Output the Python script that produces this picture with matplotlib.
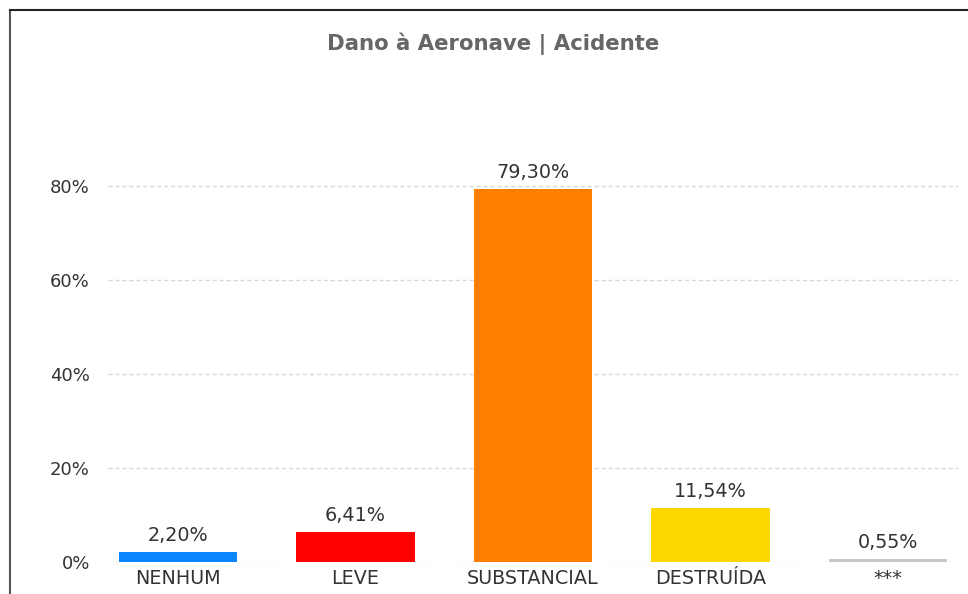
import matplotlib
matplotlib.use("Agg")
import matplotlib.pyplot as plt
from matplotlib.lines import Line2D

categories = ["NENHUM", "LEVE", "SUBSTANCIAL", "DESTRUÍDA", "***"]
values = [2.20, 6.41, 79.30, 11.54, 0.55]
labels = ["2,20%", "6,41%", "79,30%", "11,54%", "0,55%"]
colors = ["#0A84FF", "#FF0000", "#FF8000", "#FFD700", "#C8C8C8"]
yticks = [0, 20, 40, 60, 80]
ytick_labels = ["0%", "20%", "40%", "60%", "80%"]
title = "Dano à Aeronave | Acidente"

W, H = 968, 594
fig = plt.figure(figsize=(W / 100, H / 100), dpi=100)
ax = fig.add_axes([108 / W, 1 - 562 / H, (958 - 108) / W, (562 - 139) / H])

x = list(range(len(categories)))
ax.bar(x, values, width=0.665, color=colors, zorder=3)
for xi, v, lab in zip(x, values, labels):
    ax.annotate(lab, (xi, v), xytext=(0, 5), textcoords="offset points",
                ha="center", va="bottom", fontsize=13.8, color="#333333")

ax.set_xlim(-0.394, 4.394)
ax.set_ylim(0, 90)
ax.set_yticks(yticks)
ax.set_yticklabels(ytick_labels, fontsize=13)
ax.set_xticks(x)
ax.set_xticklabels(categories, fontsize=13.8)
ax.tick_params(axis="both", length=0, labelcolor="#333333")
ax.tick_params(axis="y", pad=13)
ax.tick_params(axis="x", pad=5)
ax.grid(axis="y", linestyle=(0, (3, 2)), color="#D8D8D8", linewidth=1, zorder=0)
for s in ax.spines.values():
    s.set_visible(False)

fig.text(493 / W, 1 - 44 / H, title, ha="center", va="center", fontsize=15.3,
         fontweight="bold", color="#666666", family="DejaVu Sans")

# frame lines around chart
fig.add_artist(Line2D([10 / W, 10 / W], [0, 1 - 10 / H], transform=fig.transFigure,
                      color="#555555", linewidth=1.5))
fig.add_artist(Line2D([10 / W, 1], [1 - 10 / H, 1 - 10 / H], transform=fig.transFigure,
                      color="#222222", linewidth=1.5))

fig.savefig("out.png", dpi=100)
